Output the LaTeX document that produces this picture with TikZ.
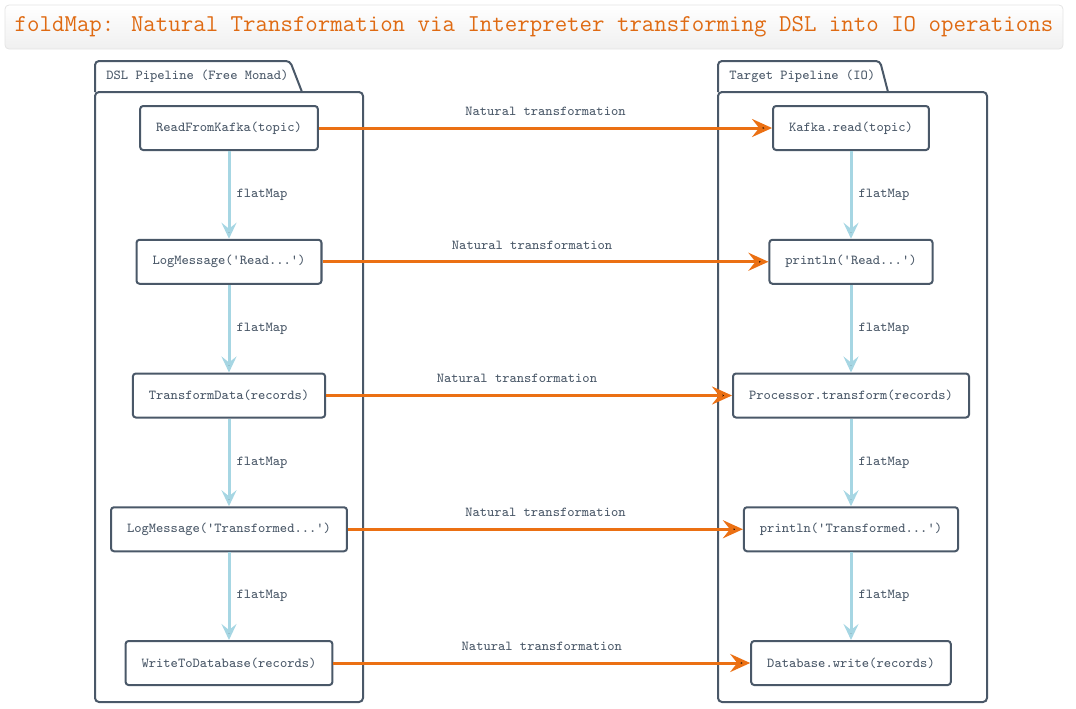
\documentclass[tikz,border=0pt]{standalone}
\usepackage{fontspec}
\usetikzlibrary{positioning,arrows.meta}
\definecolor{slate}{HTML}{4A5868}
\definecolor{natorange}{HTML}{EB7013}
\definecolor{mapblue}{HTML}{A6D6E3}
\definecolor{titleedge}{HTML}{E4E4E4}

\begin{document}
\begin{tikzpicture}[x=0.5pt,y=-0.5pt,node distance=66.875pt,on grid,auto,
    font=\ttfamily\fontsize{6.86}{8}\selectfont,
    op/.style={draw=slate,line width=1pt,rounded corners=1.5pt,fill=white,
      text=slate,minimum height=22pt,inner xsep=8pt},
    nat/.style={draw=natorange,line width=1.5pt,
      -{Stealth[length=10pt,width=9pt,inset=3.5pt]}},
    fmap/.style={draw=mapblue,line width=1.5pt,
      -{Stealth[length=8pt,width=7.5pt,inset=3pt]}},
    pkg/.style={draw=slate,line width=1pt,rounded corners=2pt},
    lbl/.style={text=slate,inner sep=3pt}]
  \useasboundingbox (0,0) rectangle (1076,708);
  % title
  \node[draw=titleedge,rounded corners=2pt,top color=white,bottom color=black!6,
    minimum width=529pt,minimum height=22pt,text=natorange!95!black,
    font=\ttfamily\fontsize{12.1}{14}\selectfont] (title) at (534,27)
    {foldMap: Natural Transformation via Interpreter transforming DSL into IO operations};
  % packages
  \draw[pkg] (95,92) rectangle (363,702);
  \draw[pkg] (95,92) -- (95,61) -- (290,61) -- (302,92);
  \node[lbl,anchor=west] (dsl) at (100,76) {DSL Pipeline (Free Monad)};
  \draw[pkg] (718,92) rectangle (987,702);
  \draw[pkg] (718,92) -- (718,61) -- (880,61) -- (888,92);
  \node[lbl,anchor=west] (target) at (723,76) {Target Pipeline (IO)};
  % DSL side
  \node[op] (read) at (229,128) {ReadFromKafka(topic)};
  \node[op, below=of read] (logread) {LogMessage('Read...')};
  \node[op, below=of logread] (trans) {TransformData(records)};
  \node[op, below=of trans] (logtrans) {LogMessage('Transformed...')};
  \node[op, below=of logtrans] (write) {WriteToDatabase(records)};
  % IO side
  \node[op, right=311pt of read] (kread) {Kafka.read(topic)};
  \node[op, right=311pt of logread] (pread) {println('Read...')};
  \node[op, right=311pt of trans] (ptrans) {Processor.transform(records)};
  \node[op, right=311pt of logtrans] (ptransd) {println('Transformed...')};
  \node[op, right=311pt of write] (dbwrite) {Database.write(records)};
  \path[fmap,every node/.style={text=slate,inner sep=3pt}]
    (read) edge node {flatMap} (logread)
    (logread) edge node {flatMap} (trans)
    (trans) edge node {flatMap} (logtrans)
    (logtrans) edge node {flatMap} (write)
    (kread) edge node {flatMap} (pread)
    (pread) edge node {flatMap} (ptrans)
    (ptrans) edge node {flatMap} (ptransd)
    (ptransd) edge node {flatMap} (dbwrite);
  \path[nat,every node/.style={text=slate,inner sep=5.5pt}]
    (read) edge node {Natural transformation} (kread)
    (logread) edge node[pos=0.47] {Natural transformation} (pread)
    (trans) edge node[pos=0.47] {Natural transformation} (ptrans)
    (logtrans) edge node {Natural transformation} (ptransd)
    (write) edge node {Natural transformation} (dbwrite);
\end{tikzpicture}
\end{document}
